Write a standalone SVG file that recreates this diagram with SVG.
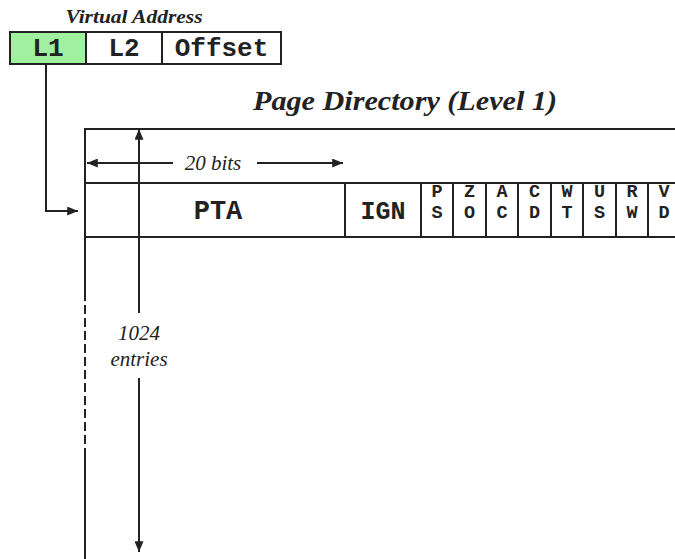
<svg xmlns="http://www.w3.org/2000/svg" width="675" height="559" viewBox="0 0 675 559">
<style>
.ln{stroke:#222;stroke-width:2;fill:none}
.box{stroke:#222;stroke-width:2}
.mono{font-family:"Liberation Mono","Courier New",monospace;font-weight:bold;fill:#222;text-anchor:middle}
.it{font-family:"Liberation Serif","Times New Roman",serif;font-style:italic;fill:#222;text-anchor:middle}
</style>
<defs>
<marker id="ah" viewBox="0 0 12 10" refX="12" refY="5" markerWidth="13" markerHeight="9" markerUnits="userSpaceOnUse" orient="auto-start-reverse">
<path d="M0,0 L12,5 L0,10 z" fill="#222"/>
</marker>
</defs>
<rect width="675" height="559" fill="#fff"/>
<g id="virtual-address">
<text class="it" x="134" y="23" font-size="18" font-weight="bold" textLength="137" lengthAdjust="spacingAndGlyphs">Virtual Address</text>
<rect x="10" y="32" width="76" height="32" fill="#a0f0a0" class="box"/>
<rect x="86" y="32" width="76" height="32" fill="#fff" class="box"/>
<rect x="162" y="32" width="119" height="32" fill="#fff" class="box"/>
<text class="mono" x="48" y="56" font-size="26">L1</text>
<text class="mono" x="124" y="56" font-size="26">L2</text>
<text class="mono" x="221.5" y="56" font-size="26">Offset</text>
</g>
<g id="page-directory">
<text class="it" x="405" y="110" font-size="27" font-weight="bold" textLength="304" lengthAdjust="spacingAndGlyphs">Page Directory (Level 1)</text>
<line class="ln" x1="84" y1="129" x2="675" y2="129"/>
<line class="ln" x1="85" y1="129" x2="85" y2="292"/>
<line class="ln" x1="85" y1="292" x2="85" y2="450" stroke-dasharray="9,4"/>
<line class="ln" x1="85" y1="450" x2="85" y2="559"/>
<line class="ln" x1="85" y1="183" x2="675" y2="183"/>
<line class="ln" x1="85" y1="237" x2="675" y2="237"/>
<g class="ln">
<line x1="345" y1="183" x2="345" y2="237"/>
<line x1="421" y1="183" x2="421" y2="237"/>
<line x1="453" y1="183" x2="453" y2="237"/>
<line x1="486" y1="183" x2="486" y2="237"/>
<line x1="518" y1="183" x2="518" y2="237"/>
<line x1="551" y1="183" x2="551" y2="237"/>
<line x1="583" y1="183" x2="583" y2="237"/>
<line x1="616" y1="183" x2="616" y2="237"/>
<line x1="648" y1="183" x2="648" y2="237"/>
</g>
<text class="mono" x="218" y="219" font-size="27">PTA</text>
<text class="mono" x="383" y="219" font-size="25">IGN</text>
<g class="mono" font-size="18.5">
<text x="437" y="196.5">P</text><text x="437" y="217.5">S</text>
<text x="469.5" y="196.5">Z</text><text x="469.5" y="217.5">O</text>
<text x="502" y="196.5">A</text><text x="502" y="217.5">C</text>
<text x="534.5" y="196.5">C</text><text x="534.5" y="217.5">D</text>
<text x="567" y="196.5">W</text><text x="567" y="217.5">T</text>
<text x="599.5" y="196.5">U</text><text x="599.5" y="217.5">S</text>
<text x="632" y="196.5">R</text><text x="632" y="217.5">W</text>
<text x="664" y="196.5">V</text><text x="664" y="217.5">D</text>
</g>
<text class="it" x="213" y="170" font-size="21">20 bits</text>
<text class="it" x="139" y="340" font-size="21">1024</text>
<text class="it" x="139" y="366" font-size="21">entries</text>
</g>
<g id="connectors">
<line class="ln" x1="173" y1="163" x2="87" y2="163" marker-end="url(#ah)"/>
<line class="ln" x1="257" y1="163" x2="343" y2="163" marker-end="url(#ah)"/>
<line class="ln" x1="139" y1="313" x2="139" y2="129" marker-end="url(#ah)"/>
<line class="ln" x1="139" y1="378" x2="139" y2="552" marker-end="url(#ah)"/>
<polyline class="ln" points="46,64 46,211 78,211" marker-end="url(#ah)"/>
</g>
</svg>
